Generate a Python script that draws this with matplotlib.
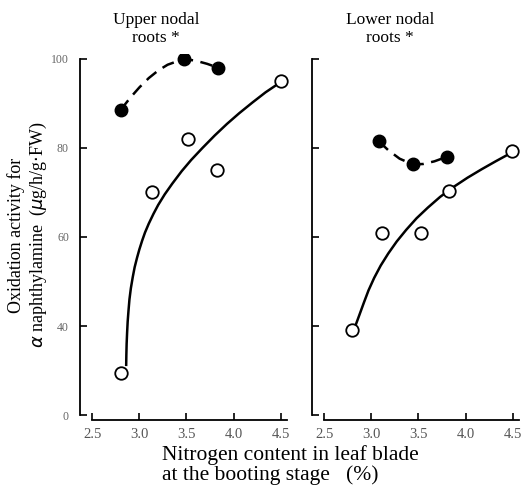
import matplotlib
matplotlib.use("Agg")
import matplotlib.pyplot as plt

plt.rcParams['font.family'] = ['Liberation Serif', 'DejaVu Serif']

# y axis is broken: the bottom tick (plotted at 20) carries the label "0"
y_ticks = [20, 40, 60, 80, 100]
y_tick_labels = ['0', '40', '60', '80', '100']
x_ticks = [2.5, 3.0, 3.5, 4.0, 4.5]
x_tick_labels = ['2.5', '3.0', '3.5', '4.0', '4.5']

# upper nodal roots
up_fill_x = [2.8, 3.47, 3.84]
up_fill_y = [88.5, 100, 98]
up_open_x = [2.8, 3.13, 3.52, 3.82, 4.5]
up_open_y = [29.5, 70, 82, 75, 95]
up_dash_x = [2.8, 2.9, 3.0, 3.1, 3.2, 3.3, 3.47, 3.6, 3.72, 3.84]
up_dash_y = [88.5, 91.2, 93.6, 95.7, 97.4, 98.7, 100, 99.6, 98.9, 98]
up_curve_x = [2.86, 2.862, 2.865, 2.87, 2.876, 2.885, 2.895, 2.91, 2.93, 2.95, 2.975,
              3.0, 3.03, 3.06, 3.1, 3.15, 3.2, 3.27, 3.35, 3.45, 3.55, 3.67,
              3.8, 3.93, 4.06, 4.2, 4.34, 4.48]
up_curve_y = [31, 33.5, 36, 38.5, 41, 43.5, 46, 48.5, 51, 53.2, 55.3,
              57.2, 59.2, 61, 63, 65.2, 67.2, 69.6, 72, 74.8, 77.3, 80,
              82.8, 85.4, 87.8, 90.2, 92.5, 94.5]

# lower nodal roots
lo_fill_x = [3.08, 3.44, 3.8]
lo_fill_y = [81.5, 76.3, 78]
lo_open_x = [2.8, 3.11, 3.53, 3.82, 4.49]
lo_open_y = [39, 61, 61, 70.4, 79.3]
lo_dash_x = [3.08, 3.18, 3.3, 3.44, 3.55, 3.67, 3.8]
lo_dash_y = [81.5, 79.5, 77.6, 76.3, 76.4, 77.0, 78]
lo_curve_x = [2.83, 2.87, 2.92, 2.97, 3.03, 3.1, 3.18, 3.27, 3.37, 3.48, 3.6,
              3.73, 3.87, 4.02, 4.17, 4.32, 4.45]
lo_curve_y = [40, 42.3, 45.2, 48, 50.8, 53.6, 56.3, 59.0, 61.6, 64.2, 66.6,
              69.0, 71.2, 73.3, 75.2, 77.0, 78.5]

fig = plt.figure(figsize=(5.24, 4.87), dpi=100)
ax1 = fig.add_axes([0.1527, 0.1386, 0.4008, 0.7495])
ax2 = fig.add_axes([0.5954, 0.1386, 0.4008, 0.7495])


def setup(ax, show_labels):
    ax.set_xlim(2.37, 4.6)
    ax.set_ylim(19, 101)
    for s in ['top', 'right']:
        ax.spines[s].set_visible(False)
    ax.spines['left'].set_bounds(20, 100)
    ax.spines['bottom'].set_bounds(2.5, 4.57)
    ax.spines['left'].set_linewidth(1.3)
    ax.spines['bottom'].set_linewidth(1.3)
    ax.set_yticks(y_ticks)
    ax.set_xticks(x_ticks)
    ax.set_xticklabels(x_tick_labels, fontsize=10.5, color='#555555')
    if show_labels:
        ax.set_yticklabels(y_tick_labels, fontsize=8.5, color='#666666')
    else:
        ax.set_yticklabels([])
    ax.tick_params(axis='y', direction='in', length=5, width=1.2, pad=8)
    ax.tick_params(axis='x', direction='in', length=5, width=1.2, pad=6)


def draw(ax, fx, fy, ox, oy, dx, dy, cx, cy):
    ax.plot(cx, cy, color='black', lw=1.8, solid_capstyle='butt')
    ax.plot(dx, dy, color='black', lw=1.8, dashes=(5, 3))
    ax.plot(fx, fy, 'o', color='black', ms=9, zorder=3)
    ax.plot(ox, oy, 'o', mfc='white', mec='black', mew=1.3, ms=9, zorder=3)


setup(ax1, True)
setup(ax2, False)
draw(ax1, up_fill_x, up_fill_y, up_open_x, up_open_y, up_dash_x, up_dash_y,
     up_curve_x, up_curve_y)
draw(ax2, lo_fill_x, lo_fill_y, lo_open_x, lo_open_y, lo_dash_x, lo_dash_y,
     lo_curve_x, lo_curve_y)

fig.text(156 / 524, 1 - 29 / 487, 'Upper nodal\nroots *', ha='center', va='center',
         fontsize=12.5, linespacing=1.1)
fig.text(390 / 524, 1 - 29 / 487, 'Lower nodal\nroots *', ha='center', va='center',
         fontsize=12.5, linespacing=1.1)

fig.text(28 / 524, 1 - 235 / 487,
         'Oxidation activity for\n$\\alpha$ naphthylamine  ($\\mu$g/h/g$\\cdot$FW)',
         rotation=90, ha='center', va='center', fontsize=13, linespacing=1.15)

fig.text(162 / 524, 1 - 465 / 487,
         'Nitrogen content in leaf blade\nat the booting stage   (%)',
         ha='left', va='center', fontsize=15.5, linespacing=1.0)

fig.savefig('out.png', dpi=100)
